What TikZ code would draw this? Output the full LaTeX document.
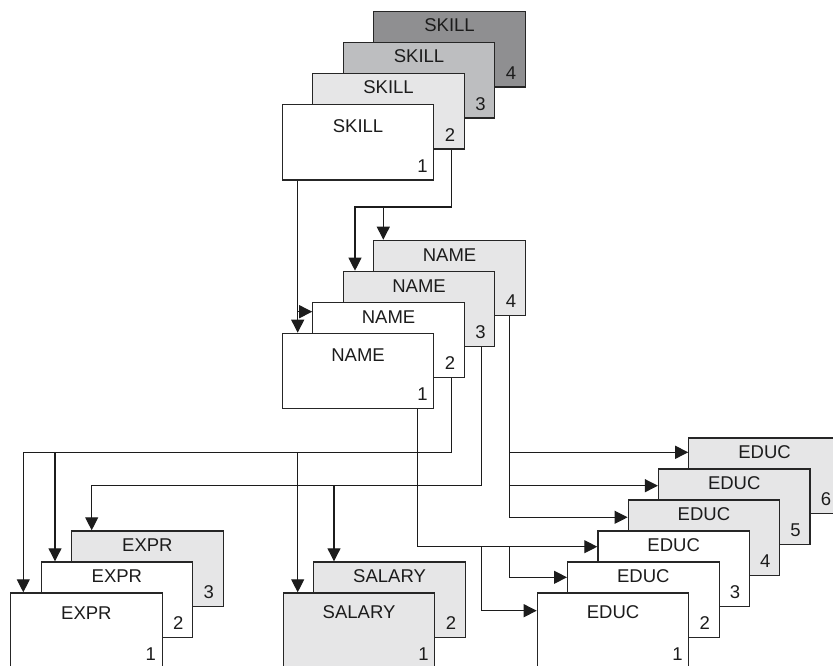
\documentclass[tikz,border=0pt]{standalone}
\usepackage{fontspec}
\setmainfont{Liberation Sans}
\usetikzlibrary{arrows.meta,calc}
\definecolor{lt}{HTML}{E6E6E7}
\definecolor{md}{HTML}{BDBEC0}
\definecolor{dk}{HTML}{8F8F91}
\definecolor{edge}{HTML}{262626}
\definecolor{ink}{HTML}{1C1C1C}
\newcommand{\mybox}[7]{%
  \node[boxst, fill=#3, anchor=north west] (#1) at (#2) {};
  \node[lbl] (#1-t) at ($(#1.north)+(0,#5)$) {#4};
  \node[lbl] (#1-n) at ($(#1.south east)+(#7,-15)$) {#6};
}
\begin{document}
\begin{tikzpicture}[x=1pt,y=-1pt,
  boxst/.style={draw=edge, line width=1.2pt, inner sep=0pt, minimum width=151.5pt, minimum height=75.5pt},
  lbl/.style={inner sep=0pt, text=ink, font=\fontsize{18.5}{20}\selectfont},
  arr/.style={draw=ink, line width=1.1pt, -{Triangle[length=13pt,width=13pt]}}]
\useasboundingbox (0,0) rectangle (833,666);
\clip (0,0) rectangle (833,666);
% SKILL stack
\mybox{s4}{373.2,11}{dk}{SKILL}{14}{4}{-15}
\mybox{s3}{342.7,42}{md}{SKILL}{14}{3}{-15}
\mybox{s2}{312.2,73}{lt}{SKILL}{14}{2}{-15}
\mybox{s1}{281.7,104}{white}{SKILL}{22}{1}{-12}
% NAME stack
\mybox{n4}{373.2,239.7}{lt}{NAME}{15}{4}{-15}
\mybox{n3}{342.7,270.7}{lt}{NAME}{15}{3}{-15}
\mybox{n2}{312.2,301.7}{white}{NAME}{15}{2}{-15}
\mybox{n1}{281.7,332.7}{white}{NAME}{22}{1}{-12}
% EXPR stack
\mybox{e3}{71,530.3}{lt}{EXPR}{15}{3}{-15}
\mybox{e2}{40.5,561.3}{white}{EXPR}{15}{2}{-15}
\mybox{e1}{10,592.3}{white}{EXPR}{21}{1}{-12}
% SALARY stack
\mybox{a2}{313.2,561.3}{lt}{SALARY}{15}{2}{-15}
\mybox{a1}{282.7,592.3}{lt}{SALARY}{20}{1}{-12}
% EDUC stack
\mybox{d6}{688.2,437.3}{lt}{EDUC}{15}{6}{-15}
\mybox{d5}{657.9,468.3}{lt}{EDUC}{15}{5}{-15}
\mybox{d4}{627.6,499.3}{lt}{EDUC}{15}{4}{-15}
\mybox{d3}{597.3,530.3}{white}{EDUC}{15}{3}{-15}
\mybox{d2}{567,561.3}{white}{EDUC}{15}{2}{-15}
\mybox{d1}{536.7,592.3}{white}{EDUC}{20}{1}{-12}
% helper coordinates
\coordinate (k1) at ($(s1.south west)+(16,0)$);
\coordinate (k2) at ($(s2.south east)+(-13.5,0)$);
\coordinate (rk) at ($(n4.north)+(0,-32.7)$);
\coordinate (tn3) at ($(n3.north west)+(12.3,0)$);
\coordinate (tn4) at ($(n4.north west)+(10.1,0)$);
\coordinate (rn2) at ($(n2.north west)+(0,10)$);
\coordinate (c1) at ($(n1.south east)+(-16.5,0)$);
\coordinate (c2) at ($(n2.south east)+(-13.5,0)$);
\coordinate (c3) at ($(n3.south east)+(-14.2,0)$);
\coordinate (c4) at ($(n4.south east)+(-16.4,0)$);
\coordinate (r2) at ($(d6.north west)+(0,15)$);
\coordinate (r3) at ($(d5.north west)+(0,17.4)$);
\coordinate (r4) at ($(d4.north west)+(0,18)$);
\coordinate (r1) at ($(d3.north west)+(0,16.4)$);
\coordinate (r1b) at ($(d2.north west)+(0,16)$);
\coordinate (r1c) at ($(d1.north west)+(0,18.4)$);
\coordinate (te1) at ($(e1.north west)+(13.3,0)$);
\coordinate (te2) at ($(e2.north west)+(14.5,0)$);
\coordinate (te3) at ($(e3.north west)+(20.7,0)$);
\coordinate (ta1) at ($(a1.north west)+(15,0)$);
\coordinate (ta2) at ($(a2.north west)+(20.8,0)$);
% SKILL -> NAME
\draw[arr] (k1) -- (k1 |- n1.north);
\draw[arr] (k1 |- rn2) -- (rn2);
\draw[arr] (k2) |- (tn3 |- rk) -- (tn3);
\draw[arr] (tn4 |- rk) -- (tn4);
% NAME 2 -> EXPR 1,2, SALARY 1
\draw[arr] (c2) |- (te1 |- r2) -- (te1);
\draw[arr] (te2 |- r2) -- (te2);
\draw[arr] (ta1 |- r2) -- (ta1);
% NAME 3 -> EXPR 3, SALARY 2
\draw[arr] (c3) |- (te3 |- r3) -- (te3);
\draw[arr] (ta2 |- r3) -- (ta2);
% NAME 4 -> EDUC 4,5,6
\draw[arr] (c4) |- (r4);
\draw[arr] (c4 |- r2) -- (r2);
\draw[arr] (c4 |- r3) -- (r3);
% NAME 1 -> EDUC 1,2,3
\draw[arr] (c1) |- (r1);
\draw[arr] (c4 |- r1) |- (r1b);
\draw[arr] (c3 |- r1) |- (r1c);
\end{tikzpicture}
\end{document}
